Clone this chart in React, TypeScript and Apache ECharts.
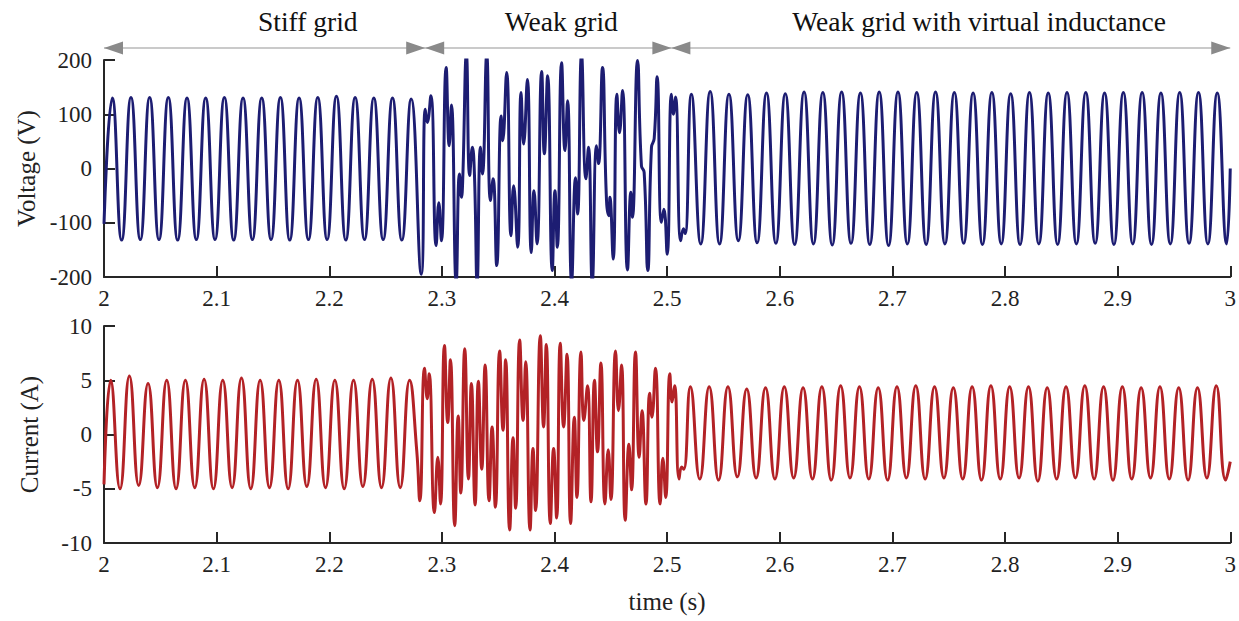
import React, { useEffect, useRef } from "react";
import * as echarts from "echarts";

// ---------- data ----------
const xTicks = { min: 2, max: 3, interval: 0.1 };
const voltageAxis = { min: -200, max: 200, interval: 100 };
const currentAxis = { min: -10, max: 10, interval: 5 };

// phase boundaries (s) and annotation labels
const phaseBounds = [2.0, 2.2852, 2.5038, 3.0];
const phaseLabels = ["Stiff grid", "Weak grid", "Weak grid with virtual inductance"];
const phaseLabelCentres = [2.1809, 2.406, 2.777];

// Voltage, stiff grid: first point, first peak time, measured period, peak / trough values
const vStart: [number, number] = [2.0, -102];
const vStiffFirstPeak = 2.00736;
const stiffPeriod = 0.016587;
const vStiffPeaks = [130, 131, 131, 131, 130, 130, 131, 130, 130, 131, 130, 131, 133, 131, 130, 130, 128];
const vStiffTroughs = [-132, -131, -131, -132, -131, -131, -132, -131, -131, -132, -131, -131, -132, -131, -131, -132];

// Voltage, weak grid (extrema)
const vWeak: [number, number][] = [
  [2.2817, -195], [2.2852, 109], [2.287, 85], [2.2902, 134], [2.2949, -142], [2.2973, -63], [2.2996, -133],
  [2.3038, 186], [2.3065, 42], [2.3085, 117], [2.3127, -210], [2.3156, -10], [2.3174, -53], [2.3185, -22],
  [2.3218, 210], [2.3247, -13], [2.3271, 39], [2.3289, -10], [2.3313, -210], [2.3342, 39], [2.336, -10],
  [2.3398, 210], [2.3431, -59], [2.3455, -19], [2.3487, -179], [2.3526, 97], [2.354, 51], [2.3575, 177],
  [2.3614, -124], [2.3637, -32], [2.3673, -145], [2.3703, 140], [2.3726, 45], [2.3759, 164], [2.3794, -155],
  [2.3818, -41], [2.3845, -139], [2.3886, 179], [2.391, 27], [2.3939, 171], [2.398, -188], [2.4004, -41],
  [2.4025, -145], [2.4063, 195], [2.4093, 33], [2.4116, 125], [2.4152, -210], [2.4187, -17], [2.4205, -84],
  [2.424, 210], [2.4279, -19], [2.4302, 39], [2.4335, -210], [2.4373, 42], [2.4391, 9], [2.4426, 186],
  [2.4462, -60], [2.4483, -87], [2.4492, -53], [2.4521, -167], [2.4554, 137], [2.4577, 66], [2.4604, 144],
  [2.4648, -187], [2.4678, -44], [2.4692, -90], [2.4737, 199], [2.4772, 5], [2.4796, -7], [2.4828, -188],
  [2.4861, 39], [2.4885, 55], [2.4911, 169], [2.4949, -99], [2.4971, -75], [2.5, -158], [2.5038, 137],
  [2.5056, 100], [2.5074, 132], [2.5121, -133], [2.5145, -111], [2.516, -120],
];

// Voltage, weak grid with virtual inductance
const vViFirstPeak = 2.52154;
const viPeriod = 0.016676;
const vViPeaks = [137, 142, 137, 136, 139, 138, 141, 140, 141, 139, 141, 141, 140, 141, 140, 139, 140, 138, 140, 139, 140, 140, 139, 140, 140, 139, 140, 140, 139];
const vViTroughs = [-139, -139, -133, -137, -138, -140, -139, -141, -138, -140, -142, -139, -140, -139, -138, -140, -139, -140, -139, -140, -139, -138, -140, -139, -140, -139, -138, -139, -139];
const vEnd: [number, number] = [3.0, 0];

// Current, stiff grid
const cStart: [number, number] = [2.0, -4.6];
const cStiffFirstPeak = 2.00594;
const cStiffPeaks = [5.0, 5.4, 4.7, 5.0, 5.0, 5.1, 5.0, 5.2, 5.0, 5.0, 5.0, 5.1, 5.0, 5.0, 5.1, 5.2, 5.0];
const cStiffTroughs = [-5.0, -4.7, -4.9, -5.0, -4.9, -5.0, -4.9, -5.0, -4.9, -5.0, -4.8, -4.9, -5.0, -4.8, -4.9, -4.9];

// Current, weak grid
const cWeak: [number, number][] = [
  [2.2777, -1.5], [2.2804, -6.1], [2.2846, 6.1], [2.287, 3.3], [2.2887, 5.6], [2.2934, -7.2], [2.2964, -2.1],
  [2.2988, -6.4], [2.3023, 8.2], [2.3052, 1.1], [2.3076, 6.9], [2.3114, -8.4], [2.3145, 1.7], [2.3168, -5.4],
  [2.3203, 7.9], [2.3236, -4.1], [2.3262, 4.7], [2.3295, -6.5], [2.3324, 4.9], [2.3354, -3.2], [2.3384, 6.4],
  [2.3419, -6.1], [2.3446, 0.7], [2.3475, -6.7], [2.3513, 7.7], [2.3543, 0.4], [2.3566, 6.9], [2.3602, -8.8],
  [2.3632, -0.3], [2.3655, -6.8], [2.3691, 8.7], [2.3721, 1.3], [2.3744, 6.7], [2.3783, -8.8], [2.3809, -1.3],
  [2.3832, -7.0], [2.3874, 9.1], [2.3903, 0.7], [2.3927, 8.3], [2.3963, -8.2], [2.3992, -1.3], [2.4019, -7.7],
  [2.4051, 8.4], [2.4081, 0.7], [2.4111, 7.4], [2.4143, -8.2], [2.4176, 1.6], [2.4199, -5.8], [2.4235, 7.6],
  [2.4261, 1.3], [2.4293, 4.5], [2.4324, -6.2], [2.4355, 5.0], [2.4382, -1.6], [2.4412, 6.6], [2.4448, -6.4],
  [2.4477, -1.4], [2.4501, -6.0], [2.4542, 7.7], [2.4568, 2.2], [2.4595, 6.4], [2.4628, -7.9], [2.4661, -0.9],
  [2.4684, -5.1], [2.4719, 7.6], [2.4752, -2.1], [2.4777, 2.2], [2.4812, -6.4], [2.4845, 3.8], [2.4865, 1.6],
  [2.4896, 6.1], [2.4938, -6.4], [2.4962, -2.2], [2.4987, -5.8], [2.5024, 5.6], [2.5044, 3.0], [2.5066, 4.5],
  [2.5106, -4.1], [2.5129, -3.0], [2.5148, -3.2],
];

// Current, weak grid with virtual inductance
const cViFirstPeak = 2.52066;
const cViPeaks = [4.4, 4.4, 4.4, 4.2, 4.3, 4.4, 4.3, 4.4, 4.5, 4.4, 4.3, 4.4, 4.5, 4.4, 4.3, 4.4, 4.5, 4.4, 4.4, 4.3, 4.4, 4.5, 4.4, 4.4, 4.3, 4.4, 4.3, 4.3, 4.5];
const cViTroughs = [-4.1, -4.2, -3.9, -4.0, -4.1, -4.0, -4.1, -4.2, -4.0, -4.1, -4.2, -4.0, -4.1, -4.0, -4.1, -4.2, -4.1, -4.0, -4.3, -4.1, -4.0, -4.1, -4.2, -4.1, -4.0, -4.1, -4.2, -4.0, -4.2];
const cEnd: [number, number] = [3.0, -2.5];

// ---------- build series points ----------
function steady(firstPeak: number, period: number, peaks: number[], troughs: number[]): [number, number][] {
  const out: [number, number][] = [];
  peaks.forEach((p, i) => {
    out.push([firstPeak + i * period, p]);
    if (i < troughs.length) out.push([firstPeak + (i + 0.5) * period, troughs[i]]);
  });
  return out;
}

const voltageData: [number, number][] = [
  vStart,
  ...steady(vStiffFirstPeak, stiffPeriod, vStiffPeaks, vStiffTroughs),
  ...vWeak,
  ...steady(vViFirstPeak, viPeriod, vViPeaks, vViTroughs),
  vEnd,
];
const currentData: [number, number][] = [
  cStart,
  ...steady(cStiffFirstPeak, stiffPeriod, cStiffPeaks, cStiffTroughs),
  ...cWeak,
  ...steady(cViFirstPeak, viPeriod, cViPeaks, cViTroughs),
  cEnd,
];

const FONT = "Liberation Serif";
const AX = "#262626";

function xAxis(gridIndex: number, name: string) {
  return {
    type: "value",
    gridIndex,
    min: xTicks.min,
    max: xTicks.max,
    interval: xTicks.interval,
    name,
    nameLocation: "middle",
    nameGap: 46,
    nameTextStyle: { fontFamily: FONT, fontSize: 25, color: "#222" },
    axisLine: { show: true, onZero: false, lineStyle: { color: AX, width: 2 } },
    axisTick: { show: true, inside: true, length: 11, lineStyle: { color: AX, width: 2 } },
    axisLabel: {
      margin: 10,
      fontFamily: FONT,
      fontSize: 23,
      color: "#222",
      formatter: (v: number) => String(Math.round(v * 10) / 10),
    },
    splitLine: { show: false },
  };
}

function yAxis(gridIndex: number, r: { min: number; max: number; interval: number }, name: string) {
  return {
    type: "value",
    gridIndex,
    min: r.min,
    max: r.max,
    interval: r.interval,
    name,
    nameLocation: "middle",
    nameGap: 62,
    nameTextStyle: { fontFamily: FONT, fontSize: 25, color: "#222" },
    axisLine: { show: true, onZero: false, lineStyle: { color: AX, width: 2 } },
    axisTick: { show: true, inside: true, length: 11, lineStyle: { color: AX, width: 2 } },
    axisLabel: { margin: 12, fontFamily: FONT, fontSize: 23, color: "#222" },
    splitLine: { show: false },
  };
}

export default function App() {
  const ref = useRef<HTMLDivElement>(null);
  useEffect(() => {
    if (!ref.current) return;
    const chart = echarts.init(ref.current, undefined, { renderer: "svg" });
    chart.setOption({
      animation: false,
      backgroundColor: "#ffffff",
      textStyle: { fontFamily: FONT },
      grid: [
        { left: 104, right: 7, top: 60, height: 217 },
        { left: 104, right: 7, top: 326, height: 217 },
      ],
      xAxis: [xAxis(0, ""), xAxis(1, "time (s)")],
      yAxis: [yAxis(0, voltageAxis, "Voltage (V)"), yAxis(1, currentAxis, "Current (A)")],
      series: [
        {
          type: "line",
          xAxisIndex: 0,
          yAxisIndex: 0,
          data: voltageData,
          showSymbol: false,
          smooth: 0.5,
          clip: true,
          lineStyle: { color: "#1d1d72", width: 3 },
        },
        {
          type: "line",
          xAxisIndex: 1,
          yAxisIndex: 1,
          data: currentData,
          showSymbol: false,
          smooth: 0.5,
          clip: true,
          lineStyle: { color: "#b32226", width: 3 },
        },
      ],
    });

    const px = (t: number) => chart.convertToPixel({ xAxisIndex: 0 }, t) as number;
    const yArrow = 48;
    const headL = 19;
    const headH = 6.5;
    const elements: any[] = [];
    elements.push({
      type: "line",
      shape: { x1: px(phaseBounds[0]), y1: yArrow, x2: px(phaseBounds[phaseBounds.length - 1]), y2: yArrow },
      style: { stroke: "#b8b8b8", lineWidth: 1.6 },
      silent: true,
    });
    for (let i = 0; i < phaseLabels.length; i++) {
      const a = px(phaseBounds[i]);
      const b = px(phaseBounds[i + 1]);
      elements.push({
        type: "polygon",
        shape: { points: [[a, yArrow], [a + headL, yArrow - headH], [a + headL, yArrow + headH]] },
        style: { fill: "#8a8a8a" },
        silent: true,
      });
      elements.push({
        type: "polygon",
        shape: { points: [[b, yArrow], [b - headL, yArrow - headH], [b - headL, yArrow + headH]] },
        style: { fill: "#8a8a8a" },
        silent: true,
      });
      elements.push({
        type: "text",
        x: px(phaseLabelCentres[i]),
        y: 21,
        style: {
          text: phaseLabels[i],
          fontFamily: FONT,
          fontSize: 27.5,
          fill: "#111",
          align: "center",
          verticalAlign: "middle",
        },
        silent: true,
      });
    }
    chart.setOption({ graphic: elements });
    return () => chart.dispose();
  }, []);
  return <div ref={ref} style={{ position: "absolute", left: 0, top: 0, width: 1239, height: 621 }} />;
}
